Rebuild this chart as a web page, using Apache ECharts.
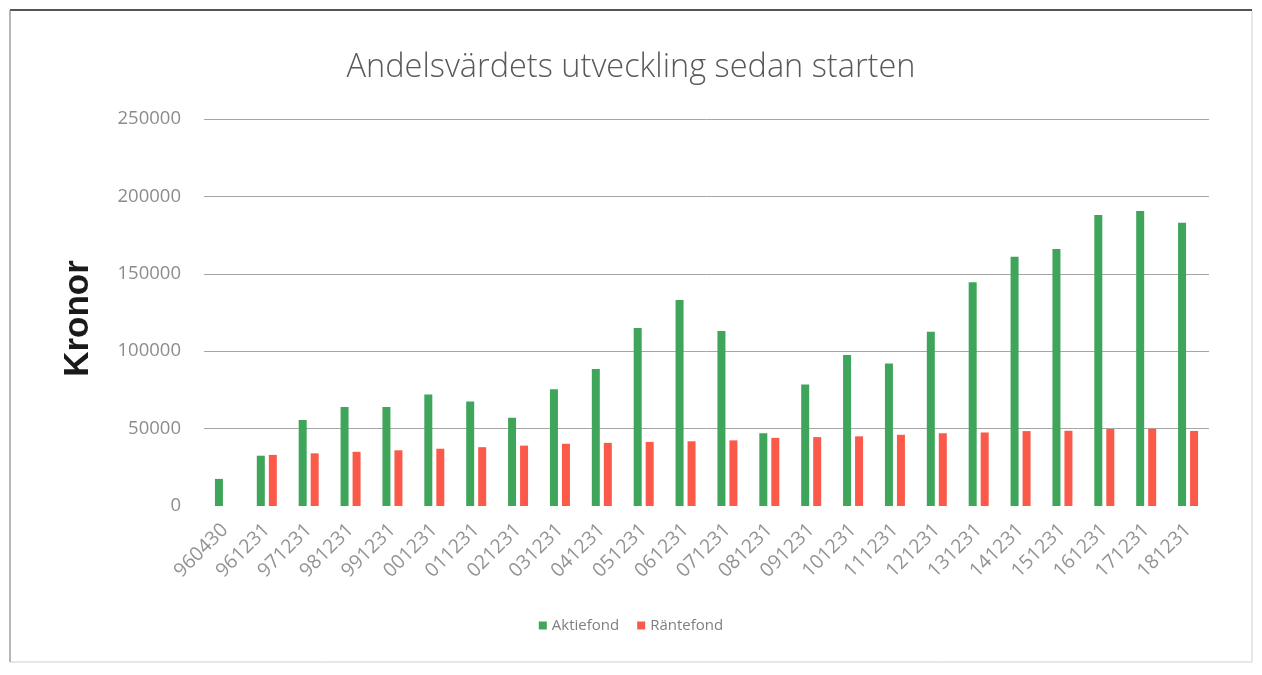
<!DOCTYPE html>
<html>
<head>
<meta charset="utf-8">
<script src="https://cdn.jsdelivr.net/npm/echarts@6/dist/echarts.min.js"></script>
<style>
html,body{margin:0;padding:0;background:#fff;}
#chart{width:1262px;height:675px;}
</style>
</head>
<body>
<div id="chart"></div>
<script>
var categories = ['960430','961231','971231','981231','991231','001231','011231','021231','031231','041231','051231','061231','071231','081231','091231','101231','111231','121231','131231','141231','151231','161231','171231','181231'];
var aktiefond = [17500,32500,55500,64000,64000,72000,67500,57000,75500,88500,115000,133000,113000,47000,78500,97500,92000,112500,144500,161000,166000,188000,190500,183000];
var rantefond = [null,33000,34000,35000,36000,37000,38000,39000,40200,40800,41400,41800,42400,44000,44500,45000,46000,47000,47500,48400,48600,49800,49900,48500];
var yTicks = [0,50000,100000,150000,200000,250000];

var chart = echarts.init(document.getElementById('chart'));
chart.setOption({
  backgroundColor: '#ffffff',
  animation: false,
  title: {
    text: 'Andelsvärdets utveckling sedan starten',
    left: 'center',
    top: 46,
    textStyle: {fontFamily: 'Open Sans', fontWeight: 300, fontSize: 32.5, color: '#595959'}
  },
  legend: {
    bottom: 37,
    left: 'center',
    itemWidth: 8,
    itemHeight: 8,
    itemGap: 18,
    icon: 'rect',
    textStyle: {fontFamily: 'Open Sans', fontSize: 15, color: '#7f7f7f'},
    data: ['Aktiefond','Räntefond']
  },
  grid: {left: 204, right: 53, top: 119, bottom: 169, containLabel: false},
  xAxis: {
    type: 'category',
    data: categories,
    axisLine: {show: false},
    axisTick: {show: false},
    axisLabel: {rotate: 45, interval: 0, margin: 21, fontFamily: 'Open Sans', fontSize: 19.5, color: '#939393'}
  },
  yAxis: {
    type: 'value',
    min: yTicks[0],
    max: yTicks[yTicks.length-1],
    interval: 50000,
    name: 'Kronor',
    nameLocation: 'middle',
    nameGap: 108,
    nameRotate: 90,
    nameTextStyle: {fontFamily: 'Liberation Sans', fontWeight: 'bold', fontSize: 35, color: '#1a1a1a', padding: [0, 12, 0, 0]},
    axisLine: {show: false},
    axisTick: {show: false},
    axisLabel: {margin: 23, fontFamily: 'Open Sans', fontSize: 18.5, color: '#8c8c8c', formatter: function (v) { return String(v); }},
    splitLine: {show: true, lineStyle: {color: ['transparent','#a6a6a6','#a6a6a6','#a6a6a6','#a6a6a6','#a6a6a6'], width: 1}}
  },
  series: [
    {name: 'Aktiefond', type: 'bar', data: aktiefond, barWidth: 8, barGap: '50%', itemStyle: {color: '#3fa55a'}},
    {name: 'Räntefond', type: 'bar', data: rantefond, barWidth: 8, barGap: '50%', itemStyle: {color: '#fb5a4a'}}
  ],
  graphic: [
    {type: 'rect', shape: {x: 10, y: 10, width: 1242, height: 652}, style: {fill: 'none', stroke: '#d0d0d0', lineWidth: 1}, silent: true},
    {type: 'line', shape: {x1: 10, y1: 10, x2: 1252, y2: 10}, style: {stroke: '#555555', lineWidth: 2}, silent: true},
    {type: 'line', shape: {x1: 10, y1: 10, x2: 10, y2: 662}, style: {stroke: '#888888', lineWidth: 1}, silent: true}
  ]
});
</script>
</body>
</html>
